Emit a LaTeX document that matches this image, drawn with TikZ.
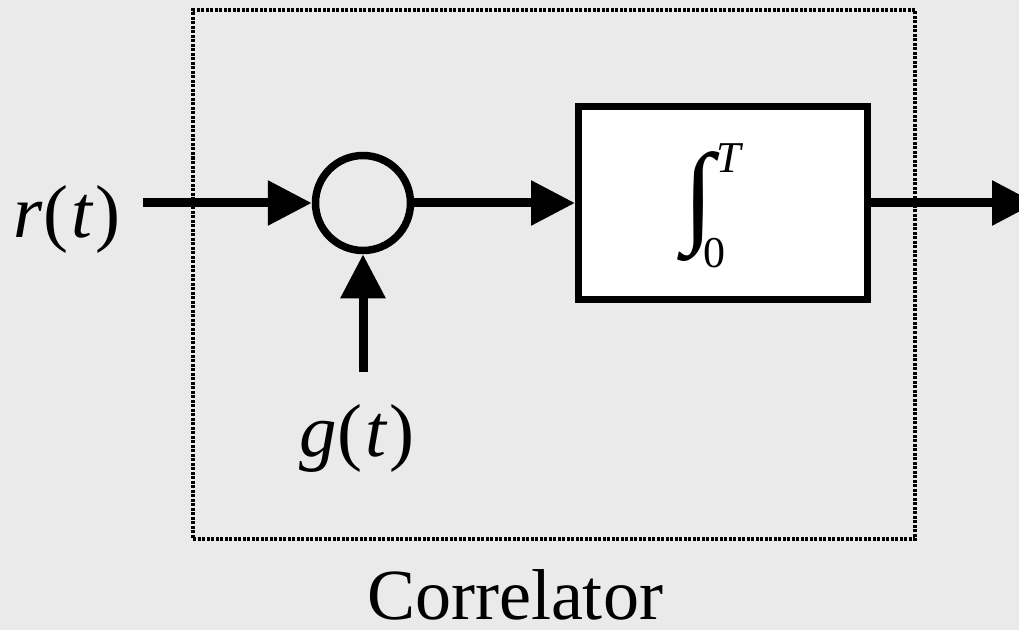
\documentclass[tikz,border=0pt]{standalone}
\usepackage{fontspec}
\setmainfont{Liberation Serif}
\usetikzlibrary{positioning, arrows.meta}
\definecolor{canvas}{HTML}{EAEAEA}
\tikzset{
  sumnode/.style = {circle, draw=black, line width=7.5pt, fill=canvas,
                    minimum size=95pt, inner sep=0pt},
  intbox/.style  = {rectangle, draw=black, line width=7pt, fill=white,
                    minimum width=289pt, minimum height=193pt, inner sep=0pt},
  frame/.style   = {rectangle, draw=black, line width=3.5pt,
                    dash pattern=on 3pt off 1.5pt,
                    minimum width=722pt, minimum height=529pt, inner sep=0pt},
  sig/.style     = {font=\fontsize{75}{80}\selectfont, inner sep=0pt},
  lim/.style     = {font=\fontsize{44}{48}\selectfont, inner sep=0pt},
  arr/.style     = {-{Triangle[length=44pt,width=43pt]}, line width=9pt},
}
\begin{document}
\begin{tikzpicture}[x=1pt, y=1pt]

  \useasboundingbox[fill=canvas] (0,0) rectangle (1019,630);

  \node[frame] (corr) at (554,355.5) {};
  \node[font=\fontsize{72}{80}\selectfont, anchor=base, inner sep=0pt] (corrlab)
       at (515,11) {Correlator};

  \node[sumnode] (mult) at (363,427) {};
  \node[intbox] (integ) at (723,427) {};

  % integral sign and its limits
  \node[font=\fontsize{112}{112}\selectfont, inner sep=0pt] (intsign)
       at (699,423) {∫};
  \node[lim] (intup) at (730,472) {\textit{T}};
  \node[lim] (intlo) at (714,377) {0};

  \node[sig, anchor=base] (rlab) at (67,392) {\textit{r}(\kern3pt\textit{t}\kern2pt)};
  \node[sig, anchor=base] (glab) at (357,174) {\textit{g}(\kern3pt\textit{t}\kern2pt)};

  \coordinate (rin) at (143,427);
  \coordinate (gin) at (363,258);
  \coordinate (yout) at (1036,427);

  \draw[arr] (rin) -- (mult.west);
  \draw[arr] (gin) -- (mult.south);
  \draw[arr] (mult.east) -- (integ.west);
  \draw[arr] (integ.east) -- (yout);

\end{tikzpicture}
\end{document}
